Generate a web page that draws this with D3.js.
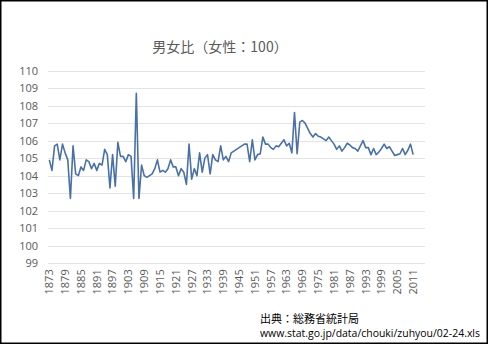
<!DOCTYPE html>
<html>
<head>
<meta charset="utf-8">
<script src="https://cdn.jsdelivr.net/npm/d3@7"></script>
<style>
  html, body { margin: 0; padding: 0; background: #fff; }
  svg { display: block; font-family: "Noto Sans CJK JP", "Open Sans", sans-serif; }
</style>
</head>
<body>
<div id="chart"></div>
<script>
const title = "男女比（女性：100）";
const source = ["出典：総務省統計局", "www.stat.go.jp/data/chouki/zuhyou/02-24.xls"];

// categories: years 1873 .. 2015 (data only up to 2011)
const firstYear = 1873;
const lastCategory = 2015;
const tickYears = [1873, 1879, 1885, 1891, 1897, 1903, 1909, 1915, 1921, 1927, 1933, 1939,
  1945, 1951, 1957, 1963, 1969, 1975, 1981, 1987, 1993, 1999, 2005, 2011];
const yTicks = [99, 100, 101, 102, 103, 104, 105, 106, 107, 108, 109, 110];

// 男女比 1873..2011
const ratio = [
  104.9, 104.3, 105.7, 105.8, 104.9, 105.8, 105.3, 104.9, 102.7, 105.7, // 1873-1882
  104.1, 104.0, 104.5, 104.3, 104.9, 104.8, 104.4, 104.7, 104.3, 104.7, // 1883-1892
  104.6, 105.5, 105.2, 103.3, 105.2, 103.4, 105.9, 105.1, 105.1, 104.8, // 1893-1902
  105.2, 105.1, 102.7, 108.7, 102.7, 104.6, 104.0, 103.9, 104.0, 104.1, // 1903-1912
  104.4, 104.9, 104.2, 104.3, 104.2, 104.4, 104.9, 104.5, 104.5, 104.0, // 1913-1922
  104.4, 104.2, 103.5, 105.8, 103.8, 104.4, 104.0, 105.3, 104.2, 105.0, // 1923-1932
  105.2, 104.1, 105.2, 104.9, 104.8, 105.7, 104.9, 105.1, 104.8, 105.3, // 1933-1942
  105.4, 105.5, 105.6, 105.7, 105.8, 105.8, 104.8, 106.05, 104.9, 105.2, // 1943-1952
  105.25, 106.2, 105.8, 105.8, 105.6, 105.5, 105.7, 105.65, 105.85, 106.05, // 1953-1962
  105.7, 105.85, 105.3, 107.6, 105.25, 107.05, 107.15, 107.0, 106.7, 106.4, // 1963-1972
  106.2, 106.4, 106.25, 106.2, 106.1, 106.0, 106.2, 106.0, 105.8, 105.5, // 1973-1982
  105.7, 105.4, 105.6, 105.85, 105.75, 105.6, 105.55, 105.4, 105.7, 106.0, // 1983-1992
  105.6, 105.6, 105.2, 105.55, 105.2, 105.35, 105.55, 105.8, 105.55, 105.65, // 1993-2002
  105.4, 105.15, 105.2, 105.25, 105.55, 105.2, 105.45, 105.8, 105.2 // 2003-2011
];

const width = 488, height = 344;
const plot = { left: 48, right: 425, top: 70.5, bottom: 263.3 };

const svg = d3.select("#chart").append("svg")
  .attr("width", width)
  .attr("height", height);

svg.append("rect")
  .attr("x", 0.75).attr("y", 0.75)
  .attr("width", width - 1.5).attr("height", height - 1.5)
  .attr("fill", "#fff")
  .attr("stroke", "#000")
  .attr("stroke-width", 1.5);

const categories = d3.range(firstYear, lastCategory + 1);
const x = d3.scaleBand()
  .domain(categories)
  .range([plot.left, plot.right]);

const y = d3.scaleLinear()
  .domain([99, 110])
  .range([plot.bottom, plot.top]);

// gridlines
svg.append("g")
  .selectAll("line")
  .data(yTicks)
  .join("line")
  .attr("x1", plot.left).attr("x2", plot.right)
  .attr("y1", d => Math.round(y(d)) + 0.5)
  .attr("y2", d => Math.round(y(d)) + 0.5)
  .attr("stroke", "#e3e3e3")
  .attr("stroke-width", 1);

// y axis labels
const yAxis = svg.append("g")
  .attr("transform", `translate(${plot.left},0)`)
  .attr("color", "#595959")
  .call(d3.axisLeft(y).tickValues(yTicks).tickSize(0).tickPadding(10).tickFormat(d3.format("d")));
yAxis.select(".domain").remove();
yAxis.selectAll("text")
  .style("font-family", "'Open Sans', sans-serif")
  .style("font-size", "11px")
  .style("fill", "#595959");

// x axis labels
const xAxis = svg.append("g")
  .attr("transform", `translate(0,${plot.bottom})`)
  .attr("color", "#595959")
  .call(d3.axisBottom(x).tickValues(tickYears).tickSize(0));
xAxis.select(".domain").remove();
xAxis.selectAll("text")
  .style("font-family", "'Open Sans', sans-serif")
  .style("font-size", "11px")
  .style("fill", "#595959")
  .attr("text-anchor", "end")
  .attr("transform", "rotate(-90)")
  .attr("x", -6)
  .attr("y", 0)
  .attr("dy", "0.35em");

// line
const pts = ratio.map((v, i) => ({ year: firstYear + i, value: v }));
svg.append("path")
  .datum(pts)
  .attr("fill", "none")
  .attr("stroke", "#4a70a8")
  .attr("stroke-width", 1.6)
  .attr("stroke-linejoin", "round")
  .attr("d", d3.line()
    .x(d => x(d.year) + x.bandwidth() / 2)
    .y(d => y(d.value)));

// title
svg.append("text")
  .attr("x", 220)
  .attr("y", 52)
  .attr("text-anchor", "middle")
  .style("font-size", "14px")
  .attr("fill", "#595959")
  .text(title);

// source
svg.append("text")
  .attr("x", 260)
  .attr("y", 323)
  .style("font-size", "11px")
  .attr("fill", "#000")
  .text(source[0]);

svg.append("text")
  .attr("x", 260)
  .attr("y", 337)
  .attr("textLength", 220)
  .attr("lengthAdjust", "spacingAndGlyphs")
  .style("font-size", "10.5px")
  .style("font-family", "'Open Sans', sans-serif")
  .attr("fill", "#000")
  .text(source[1]);
</script>
</body>
</html>
